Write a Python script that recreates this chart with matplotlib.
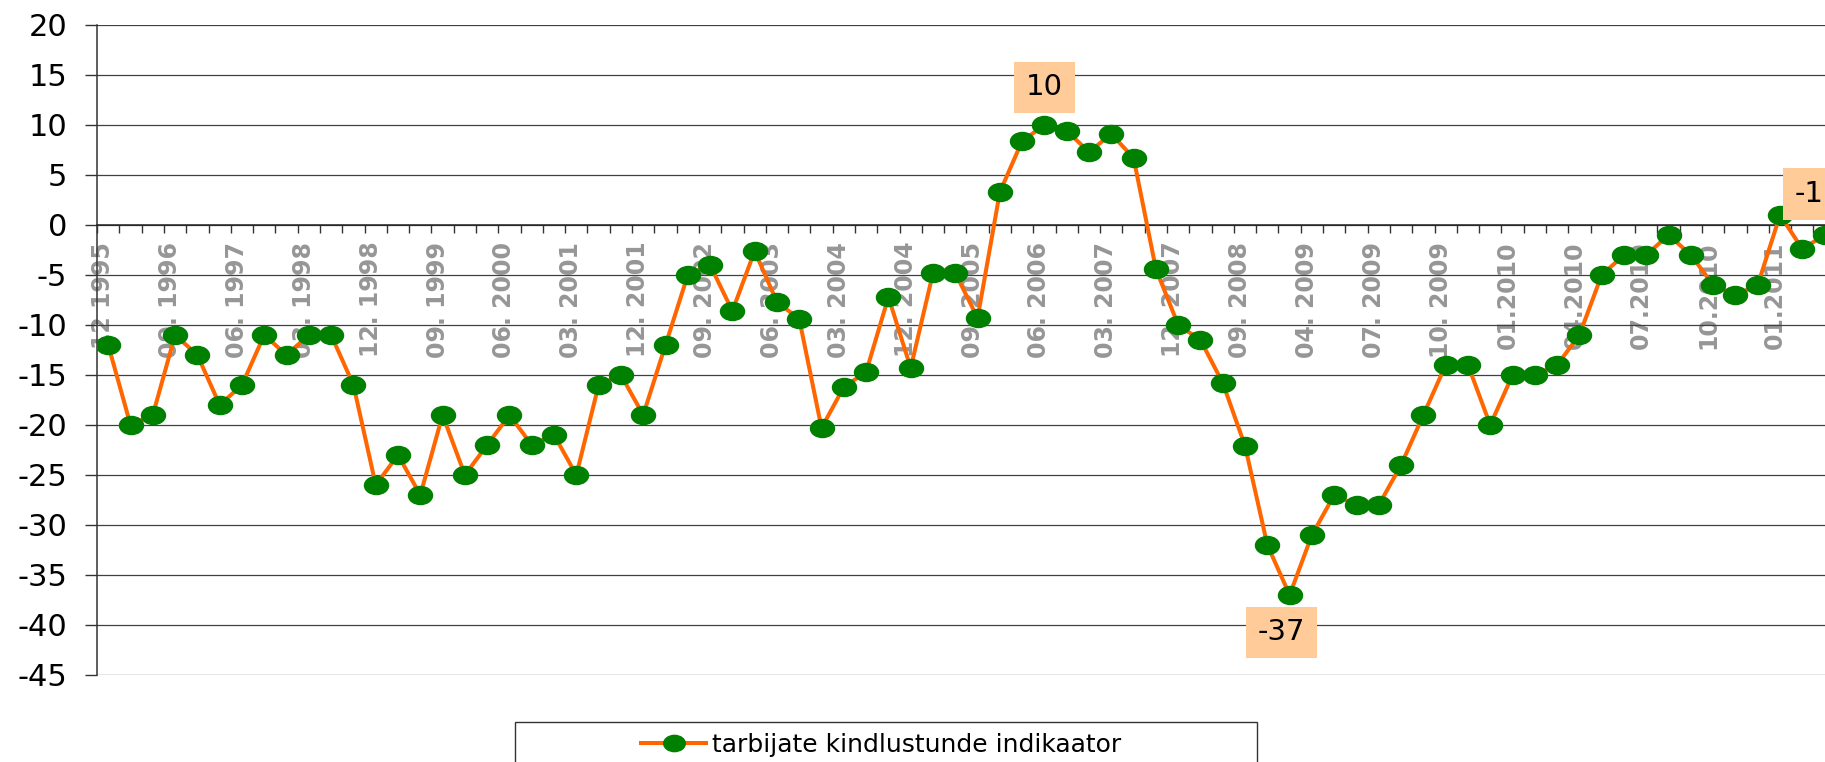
import numpy as np
import matplotlib
matplotlib.use('Agg')
import matplotlib.pyplot as plt
from matplotlib.path import Path
from matplotlib.patches import Rectangle
import matplotlib.transforms as mtransforms

plt.rcParams['axes.unicode_minus'] = False

# consumer confidence indicator, one value per category (quarterly, later monthly)
values = [-12, -20, -19, -11, -13, -18, -16, -11, -13, -11,
          -11, -16, -26, -23, -27, -19, -25, -22, -19, -22,
          -21, -25, -16, -15, -19, -12, -5, -4, -8.6, -2.6,
          -7.7, -9.4, -20.3, -16.2, -14.7, -7.2, -14.3, -4.8, -4.8, -9.3,
          3.3, 8.4, 10, 9.4, 7.3, 9.1, 6.7, -4.4, -10, -11.5,
          -15.8, -22.1, -32, -37, -31, -27, -28, -28, -24, -19,
          -14, -14, -20, -15, -15, -14, -11, -5, -3, -3,
          -1, -3, -6, -7, -6, 1, -2.4, -1]

tick_labels = ['12 1995', '09. 1996', '06. 1997', '03. 1998', '12. 1998',
               '09. 1999', '06. 2000', '03. 2001', '12. 2001', '09. 2002',
               '06. 2003', '03. 2004', '12. 2004', '09. 2005', '06. 2006',
               '03. 2007', '12. 2007', '09. 2008', '04. 2009', '07. 2009',
               '10. 2009', '01.2010', '04.2010', '07.2010', '10.2010', '01.2011']
label_step = 3
series_name = 'tarbijate kindlustunde indikaator'

nn = len(values)
xx = np.arange(nn)

fig = plt.figure(figsize=(18.25, 7.62), dpi=100)
ax = fig.add_axes([0.0532, 0.1142, 0.9527, 0.8530])

# spine first: moving it resets the ticks
ax.spines['bottom'].set_position(('data', 0))
ax.spines['bottom'].set_color('#222222')
ax.spines['bottom'].set_linewidth(1.1)
ax.spines['left'].set_color('#333333')
ax.spines['left'].set_linewidth(1.1)
ax.spines['top'].set_visible(False)
ax.spines['right'].set_visible(False)

# wide ellipse marker, like the stretched excel picture
circ = Path.unit_circle()
ellipse = Path(circ.vertices * np.array([1.33, 1.0]), circ.codes)

ax.plot(xx, values, color='#FF6600', lw=2.9, marker=ellipse, ms=17.3,
        mfc='#008000', mec='#008000', label=series_name, zorder=3)

ax.set_xlim(-0.5, nn - 0.5)
ax.set_ylim(-45, 20)
ax.set_yticks(np.arange(-45, 21, 5))

ax.set_xticks(xx[::label_step])
ax.set_xticks(np.arange(-0.5, nn, 1), minor=True)
ax.tick_params(axis='x', which='major', length=0, pad=12, labelsize=17,
               labelcolor='#969696', labelrotation=90)
ax.tick_params(axis='x', which='minor', length=5.8, width=1, color='#333333',
               direction='out')
ax.set_xticklabels(tick_labels, fontweight='bold', va='top', ha='center')
shift = mtransforms.ScaledTranslation(-5 / 100, 0, fig.dpi_scale_trans)
for lbl in ax.get_xticklabels():
    lbl.set_transform(lbl.get_transform() + shift)

ax.tick_params(axis='y', length=8.6, width=1, color='#333333', pad=13,
               labelsize=22)
ax.yaxis.grid(True, color='#404040', lw=0.9)
ax.set_axisbelow(True)

# value callouts: max, min and the latest point
box = dict(boxstyle='square,pad=0.4', fc='#FFCC99', ec='none')
i_max = int(np.argmax(values))
i_min = int(np.argmin(values))
i_last = nn - 1
for ii, off in [(i_max, (0, 27)), (i_min, (-6, -27)), (i_last, (-11, 29.5))]:
    ax.annotate('%d' % round(values[ii]), xy=(ii, values[ii]), xytext=off,
                textcoords='offset points', ha='center', va='center',
                fontsize=21, bbox=box, annotation_clip=False, zorder=4)

# legend with a wide frame running off the bottom edge
hh, ll = ax.get_legend_handles_labels()
fig.legend(hh, ll, loc='center', bbox_to_anchor=(0.483, 0.0223), frameon=False,
           fontsize=18, handlelength=2.6, handletextpad=0.25, markerscale=0.9)
fig.add_artist(Rectangle((0.2822, -0.05), 0.4066, 0.1025, transform=fig.transFigure,
                         fill=False, ec='#333333', lw=1))

fig.savefig('out.png', dpi=100)
